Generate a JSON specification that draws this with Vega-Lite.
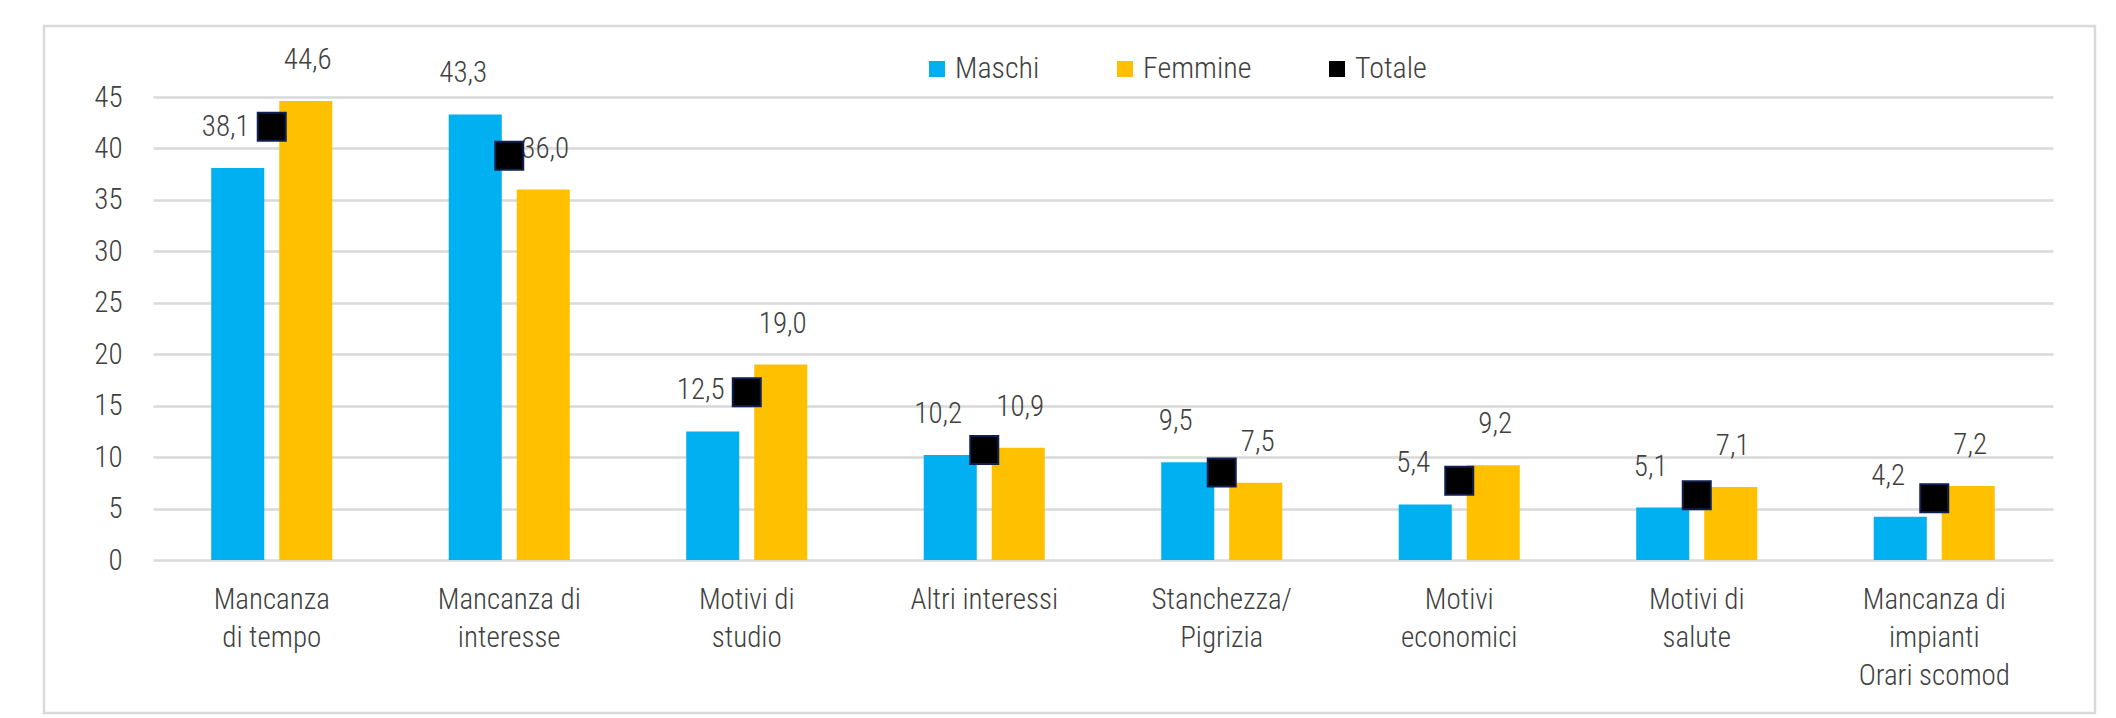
{
  "$schema": "https://vega.github.io/schema/vega-lite/v6.json",
  "width": 2051,
  "height": 687,
  "autosize": {"type": "none"},
  "padding": {"left": 44, "top": 26, "right": 21, "bottom": 5},
  "background": "white",
  "config": {
    "locale": {"number": {"decimal": ",", "thousands": ".", "grouping": [3], "currency": ["€", ""]}},
    "view": {"stroke": "#D9D9D9", "strokeWidth": 2.5},
    "font": "Liberation Sans Narrow, Arial Narrow, Roboto Condensed, Roboto, sans-serif",
    "text": {"font": "Liberation Sans Narrow, Arial Narrow, Roboto Condensed, Roboto, sans-serif"}
  },
  "data": {
    "values": [
      {"categoria": "Mancanza|di tempo", "serie": "Maschi", "valore": 38.1},
      {"categoria": "Mancanza|di tempo", "serie": "Femmine", "valore": 44.6},
      {"categoria": "Mancanza|di tempo", "serie": "Totale", "valore": 42.1},
      {"categoria": "Mancanza di|interesse", "serie": "Maschi", "valore": 43.3},
      {"categoria": "Mancanza di|interesse", "serie": "Femmine", "valore": 36.0},
      {"categoria": "Mancanza di|interesse", "serie": "Totale", "valore": 39.3},
      {"categoria": "Motivi di|studio", "serie": "Maschi", "valore": 12.5},
      {"categoria": "Motivi di|studio", "serie": "Femmine", "valore": 19.0},
      {"categoria": "Motivi di|studio", "serie": "Totale", "valore": 16.3},
      {"categoria": "Altri interessi", "serie": "Maschi", "valore": 10.2},
      {"categoria": "Altri interessi", "serie": "Femmine", "valore": 10.9},
      {"categoria": "Altri interessi", "serie": "Totale", "valore": 10.7},
      {"categoria": "Stanchezza/|Pigrizia", "serie": "Maschi", "valore": 9.5},
      {"categoria": "Stanchezza/|Pigrizia", "serie": "Femmine", "valore": 7.5},
      {"categoria": "Stanchezza/|Pigrizia", "serie": "Totale", "valore": 8.5},
      {"categoria": "Motivi|economici", "serie": "Maschi", "valore": 5.4},
      {"categoria": "Motivi|economici", "serie": "Femmine", "valore": 9.2},
      {"categoria": "Motivi|economici", "serie": "Totale", "valore": 7.7},
      {"categoria": "Motivi di|salute", "serie": "Maschi", "valore": 5.1},
      {"categoria": "Motivi di|salute", "serie": "Femmine", "valore": 7.1},
      {"categoria": "Motivi di|salute", "serie": "Totale", "valore": 6.3},
      {"categoria": "Mancanza di|impianti|Orari scomod", "serie": "Maschi", "valore": 4.2},
      {"categoria": "Mancanza di|impianti|Orari scomod", "serie": "Femmine", "valore": 7.2},
      {"categoria": "Mancanza di|impianti|Orari scomod", "serie": "Totale", "valore": 6.0}
    ]
  },
  "encoding": {
    "x": {
      "field": "categoria",
      "type": "nominal",
      "sort": null,
      "scale": {"range": [109, 2009], "paddingInner": 0, "paddingOuter": 0},
      "axis": {
        "title": null,
        "orient": "bottom",
        "offset": -153,
        "domain": false,
        "ticks": false,
        "labelAngle": 0,
        "labelExpr": "split(datum.label, '|')",
        "labelFontSize": 29,
        "labelFontWeight": 300,
        "labelColor": "#404040",
        "labelLineHeight": 38,
        "labelBaseline": "top",
        "labelPadding": 25,
        "labelFont": "Liberation Sans Narrow, Arial Narrow, Roboto Condensed, Roboto, sans-serif"
      }
    },
    "y": {
      "field": "valore",
      "type": "quantitative",
      "scale": {"domain": [0, 45], "range": [534, 71], "nice": false},
      "axis": {
        "title": null,
        "offset": -109,
        "domain": false,
        "ticks": false,
        "values": [0, 5, 10, 15, 20, 25, 30, 35, 40, 45],
        "labelFontSize": 29,
        "labelFontWeight": 300,
        "labelColor": "#404040",
        "labelPadding": 31,
        "labelFont": "Liberation Sans Narrow, Arial Narrow, Roboto Condensed, Roboto, sans-serif",
        "gridColor": "#D9D9D9",
        "gridWidth": 2.5
      }
    }
  },
  "layer": [
    {
      "transform": [{"filter": "datum.serie !== 'Totale'"}],
      "mark": {"type": "bar"},
      "encoding": {
        "xOffset": {
          "field": "serie",
          "type": "nominal",
          "scale": {"domain": ["Maschi", "Femmine"], "paddingInner": 0.22, "paddingOuter": 0.856}
        },
        "color": {
          "field": "serie",
          "type": "nominal",
          "scale": {"domain": ["Maschi", "Femmine", "Totale"], "range": ["#00B0F0", "#FFC000", "#000000"]},
          "legend": {
            "title": null,
            "orient": "none",
            "legendX": 878,
            "legendY": 28,
            "direction": "horizontal",
            "symbolType": "square",
            "symbolSize": 256,
            "symbolStrokeWidth": 0,
            "labelFontSize": 30,
            "labelFontWeight": 300,
            "labelColor": "#404040",
            "labelFont": "Liberation Sans Narrow, Arial Narrow, Roboto Condensed, Roboto, sans-serif",
            "labelOffset": 3,
            "columnPadding": 70,
            "padding": 0
          }
        }
      }
    },
    {
      "transform": [{"filter": "datum.serie === 'Maschi'"}],
      "mark": {"type": "text", "dy": -41, "dx": -12, "baseline": "middle", "align": "center", "fontSize": 29, "fontWeight": 300, "color": "#404040"},
      "encoding": {
        "xOffset": {"field": "serie", "type": "nominal"},
        "text": {"field": "valore", "type": "quantitative", "format": ".1f"}
      }
    },
    {
      "transform": [{"filter": "datum.serie === 'Femmine'"}],
      "mark": {"type": "text", "dy": -41, "dx": 2, "baseline": "middle", "align": "center", "fontSize": 29, "fontWeight": 300, "color": "#404040"},
      "encoding": {
        "xOffset": {"field": "serie", "type": "nominal"},
        "text": {"field": "valore", "type": "quantitative", "format": ".1f"}
      }
    },
    {
      "transform": [{"filter": "datum.serie === 'Totale'"}],
      "mark": {"type": "square", "filled": true, "size": 784, "stroke": "#0F1F50", "strokeWidth": 2, "opacity": 1},
      "encoding": {
        "color": {"field": "serie", "type": "nominal"}
      }
    }
  ]
}
